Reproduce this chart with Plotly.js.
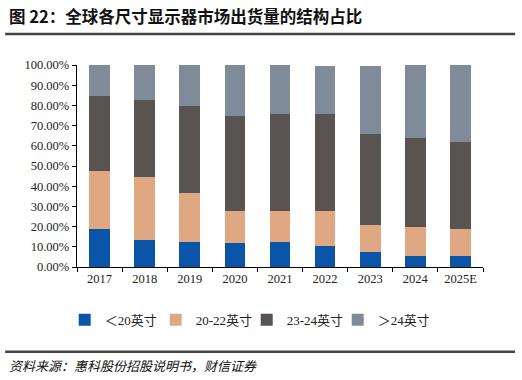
<!DOCTYPE html>
<html><head><meta charset="utf-8">
<script src="https://cdn.plot.ly/plotly-3.0.1.min.js"></script>
<style>html,body{margin:0;padding:0;background:#fff}#c{width:522px;height:380px}</style>
</head><body><div id="c"></div>
<script>
const years = ["2017","2018","2019","2020","2021","2022","2023","2024","2025E"];
const seriesNames = ["＜20英寸","20-22英寸","23-24英寸","＞24英寸"];
const lt20 = [18.7,13.6,12.6,11.7,12.6,10.6,7.6,5.6,5.6];
const s20_22 = [28.9,31.2,23.9,15.9,15.0,17.0,13.1,14.1,13.1];
const s23_24 = [37.2,37.8,43.0,47.3,48.3,48.3,44.9,44.0,43.0];
const gt24 = [15.2,17.4,20.5,25.1,24.1,23.7,34.0,36.3,38.3];
const yTicks = [0,10,20,30,40,50,60,70,80,90,100];

const colors = ["#0b55a8","#dfa882","#595352","#7f8b99"];
const vals = [lt20,s20_22,s23_24,gt24];
const traces = vals.map((v,i)=>({
  type:"bar", x:years, y:v, name:seriesNames[i],
  marker:{color:colors[i], line:{width:0}}, hoverinfo:"none"
}));
const serif = "Liberation Serif, Noto Sans CJK SC, serif";
const layout = {
  width:522, height:380,
  margin:{l:77,r:39,t:65,b:113},
  barmode:"stack", bargap:0.54,
  paper_bgcolor:"#fff", plot_bgcolor:"#fff",
  showlegend:true,
  legend:{orientation:"h", x:0.418, xanchor:"center", y:-0.262, yanchor:"middle",
    font:{family:serif, size:13, color:"#222"}, itemwidth:30, entrywidth:46, entrywidthmode:"pixels",
    traceorder:"normal", tracegroupgap:0},
  xaxis:{type:"category", showline:true, linecolor:"#000", linewidth:1.3,
    ticks:"outside", ticklen:4, tickcolor:"#000", tickson:"boundaries",
    tickfont:{family:serif, size:12.5, color:"#222"}, showgrid:false, zeroline:false, fixedrange:true},
  yaxis:{range:[0,100], tickvals:yTicks, ticktext:yTicks.map(v=>v.toFixed(2)+"%"),
    showline:true, linecolor:"#000", linewidth:1.3, ticks:"outside", ticklen:4, tickcolor:"#000",
    tickfont:{family:serif, size:12.5, color:"#222"}, showgrid:false, zeroline:false, fixedrange:true},
  shapes:[
    {type:"line", xref:"paper", yref:"paper", x0:-0.177, x1:1.079, y0:1.153, y1:1.153, line:{color:"#444", width:2.5}},
    {type:"line", xref:"paper", yref:"paper", x0:-0.177, x1:1.079, y0:-0.42, y1:-0.42, line:{color:"#444", width:2.5}}
  ],
  annotations:[
    {xref:"paper", yref:"paper", x:-0.172, y:1.245, xanchor:"left", yanchor:"middle", showarrow:false,
     text:"<b>图 22：全球各尺寸显示器市场出货量的结构占比</b>", font:{family:"Noto Sans CJK SC, sans-serif", size:16.5, color:"#111"}},
    {xref:"paper", yref:"paper", x:-0.172, y:-0.49, xanchor:"left", yanchor:"middle", showarrow:false,
     text:"<i>资料来源：惠科股份招股说明书，财信证券</i>", font:{family:"Noto Sans CJK SC, sans-serif", size:13, color:"#111"}}
  ]
};
Plotly.newPlot("c", traces, layout, {staticPlot:true, displayModeBar:false});
</script></body></html>
